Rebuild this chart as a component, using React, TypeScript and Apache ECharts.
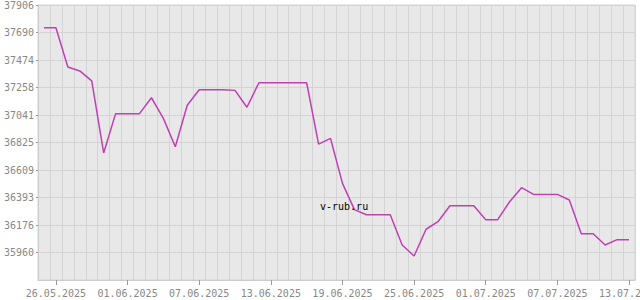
import React, { useEffect, useRef } from "react";
import * as echarts from "echarts";

const dates: string[] = [
  "25.05.2025", "26.05.2025", "27.05.2025", "28.05.2025", "29.05.2025", "30.05.2025", "31.05.2025",
  "01.06.2025", "02.06.2025", "03.06.2025", "04.06.2025", "05.06.2025", "06.06.2025", "07.06.2025",
  "08.06.2025", "09.06.2025", "10.06.2025", "11.06.2025", "12.06.2025", "13.06.2025", "14.06.2025",
  "15.06.2025", "16.06.2025", "17.06.2025", "18.06.2025", "19.06.2025", "20.06.2025", "21.06.2025",
  "22.06.2025", "23.06.2025", "24.06.2025", "25.06.2025", "26.06.2025", "27.06.2025", "28.06.2025",
  "29.06.2025", "30.06.2025", "01.07.2025", "02.07.2025", "03.07.2025", "04.07.2025", "05.07.2025",
  "06.07.2025", "07.07.2025", "08.07.2025", "09.07.2025", "10.07.2025", "11.07.2025", "12.07.2025",
  "13.07.2025",
];

const values: number[] = [
  37728, 37728, 37419, 37388, 37310, 36743, 37052,
  37052, 37052, 37177, 37015, 36792, 37118, 37240,
  37240, 37240, 37235, 37102, 37295, 37295, 37295,
  37295, 37295, 36812, 36857, 36504, 36297, 36257,
  36257, 36257, 36019, 35933, 36143, 36202, 36328,
  36328, 36328, 36218, 36218, 36359, 36470, 36417,
  36417, 36417, 36373, 36108, 36108, 36019, 36061,
  36061,
];

const yMin = 35743.85;
const yMax = 37906.35;
const yStep = 216.25;
const watermark = "v-rub.ru";

export default function App() {
  const ref = useRef<HTMLDivElement>(null);
  useEffect(() => {
    document.body.style.margin = "0";
    if (!ref.current) return;
    const chart = echarts.init(ref.current, null, { renderer: "svg" });
    const font = "'DejaVu Sans Mono', monospace";
    chart.setOption({
      animation: false,
      backgroundColor: "#ffffff",
      grid: {
        left: 38,
        top: 5,
        right: 5,
        bottom: 20,
        containLabel: false,
        outerBoundsMode: "none",
        show: true,
        backgroundColor: "#e8e8e8",
        borderColor: "#d4d4d4",
        borderWidth: 1,
      },
      xAxis: {
        type: "category",
        data: dates,
        boundaryGap: true,
        axisLine: { show: true, lineStyle: { color: "#cccccc" } },
        axisTick: {
          show: true,
          alignWithLabel: true,
          length: 5,
          interval: (i: number) => i % 6 === 1,
          lineStyle: { color: "#999999" },
        },
        axisLabel: {
          interval: (i: number) => i % 6 === 1,
          color: "#888888",
          fontFamily: font,
          fontSize: 10,
          margin: 8,
          hideOverlap: false,
        },
        splitLine: { show: true, interval: 0, lineStyle: { color: "#d4d4d4", width: 1 } },
      },
      yAxis: {
        type: "value",
        min: yMin,
        max: yMax,
        interval: yStep,
        axisLine: { show: true, lineStyle: { color: "#cccccc" } },
        axisTick: { show: true, length: 2, lineStyle: { color: "#999999" } },
        axisLabel: {
          showMinLabel: false,
          color: "#888888",
          fontFamily: font,
          fontSize: 10,
          margin: 4,
          formatter: (v: number) => String(Math.round(v)),
        },
        splitLine: { show: true, lineStyle: { color: "#d4d4d4", width: 1 } },
      },
      series: [
        {
          type: "line",
          data: values,
          symbol: "none",
          lineStyle: { color: "#c040b4", width: 1.5 },
        },
      ],
      graphic: [
        {
          type: "text",
          x: 320,
          y: 201,
          style: {
            text: watermark,
            fill: "#000000",
            font: "10px 'DejaVu Sans Mono', monospace",
            verticalAlign: "top",
          },
          z: 100,
        },
      ],
    });
    return () => chart.dispose();
  }, []);
  return (
    <div
      ref={ref}
      style={{ position: "absolute", left: 0, top: 0, width: 640, height: 300 }}
    />
  );
}
